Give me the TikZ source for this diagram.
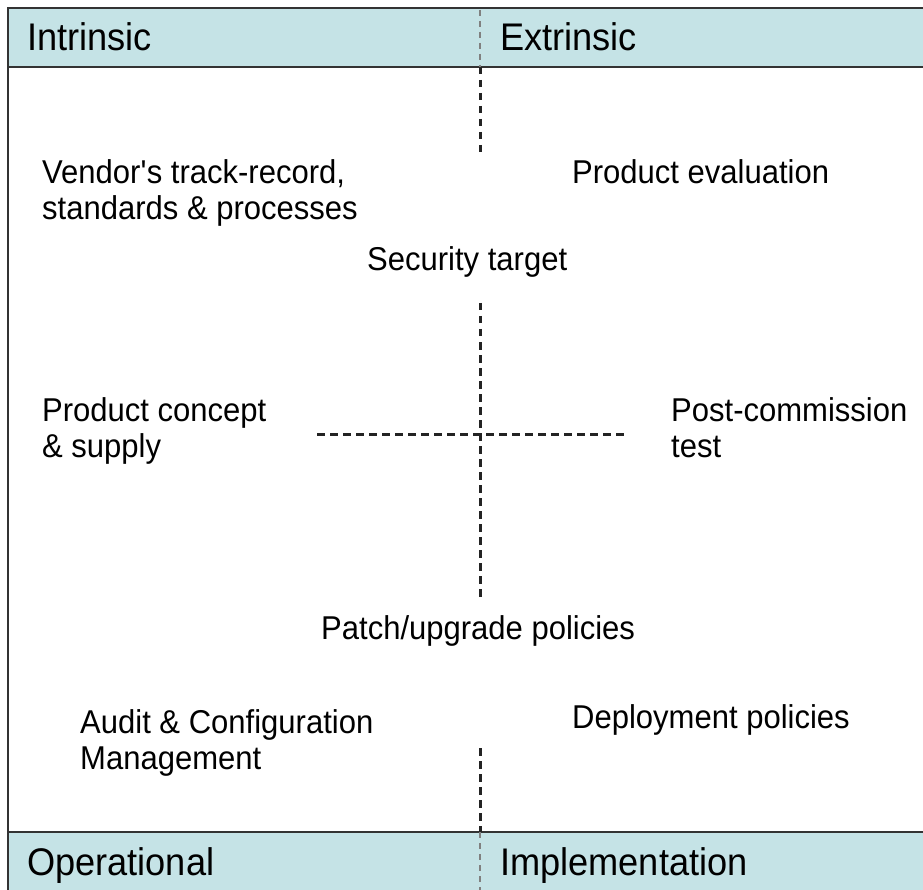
\documentclass[tikz,border=0pt]{standalone}
\usepackage{fontspec}
\setmainfont{Liberation Sans}[FakeStretch=0.94]
\usetikzlibrary{positioning}
\definecolor{barblue}{RGB}{197,227,230}
\definecolor{dashgray}{RGB}{35,35,35}
\tikzstyle{heading}=[anchor=base west, inner sep=0pt, font=\fontsize{38.5}{44}\selectfont]
\tikzstyle{item}=[anchor=base west, inner sep=0pt, align=left, font=\fontsize{33}{36}\selectfont]
\tikzstyle{split}=[draw=dashgray, line width=3pt, dash pattern=on 7.5pt off 5.5pt]
\tikzstyle{barsplit}=[draw=gray, line width=1.2pt, dash pattern=on 6pt off 5pt]
\tikzstyle{bar}=[draw=black!80, line width=2.5pt, fill=barblue]

\begin{document}
\begin{tikzpicture}[x=1pt, y=-1pt]
    \useasboundingbox (0,0) rectangle (923,890);
    \fill[white] (0,0) rectangle (923,890);

    % outer frame, header bar and footer bar
    \draw[line width=2.5pt, draw=black!80] (8,8) rectangle (940,900);
    \draw[bar] (8,8) rectangle (940,67);
    \draw[bar] (8,832) rectangle (940,900);

    \node (Intrinsic) [heading] at (27,51) {Intrinsic};
    \node (Extrinsic) [heading] at (500,51) {Extrinsic};
    \node (Operational) [heading] at (27,875) {Operational};
    \node (Implementation) [heading] at (500,875) {Implementation};

    % the split between the halves
    \coordinate (cross) at (480,434);
    \draw[barsplit] (480,10) -- (480,67);
    \draw[split] (480,67) -- (480,155);
    \draw[split] (480,303) -- (480,600);
    \draw[split] (317,434) -- (625,434);
    \draw[split] (480,748) -- (480,832);
    \draw[barsplit] (480,832) -- (480,890);

    % two-line labels sit on the baseline of their last line
    \node (Vendor) [item] at (42,220) {Vendor\textquotesingle s track-record,\\standards \& processes};
    \node (Evaluation) [item] at (572,184) {Product evaluation};
    \node (Target) [item] at (367,271) {Security target};
    \node (Concept) [item] at (42,457) {Product concept\\\& supply};
    \node (PostTest) [item] at (671,457) {Post-commission\\test};
    \node (Patch) [item] at (321,639) {Patch/upgrade policies};
    \node (Audit) [item] at (80,769) {Audit \& Configuration\\Management};
    \node (Deployment) [item] at (572,728) {Deployment policies};

\end{tikzpicture}
\end{document}
